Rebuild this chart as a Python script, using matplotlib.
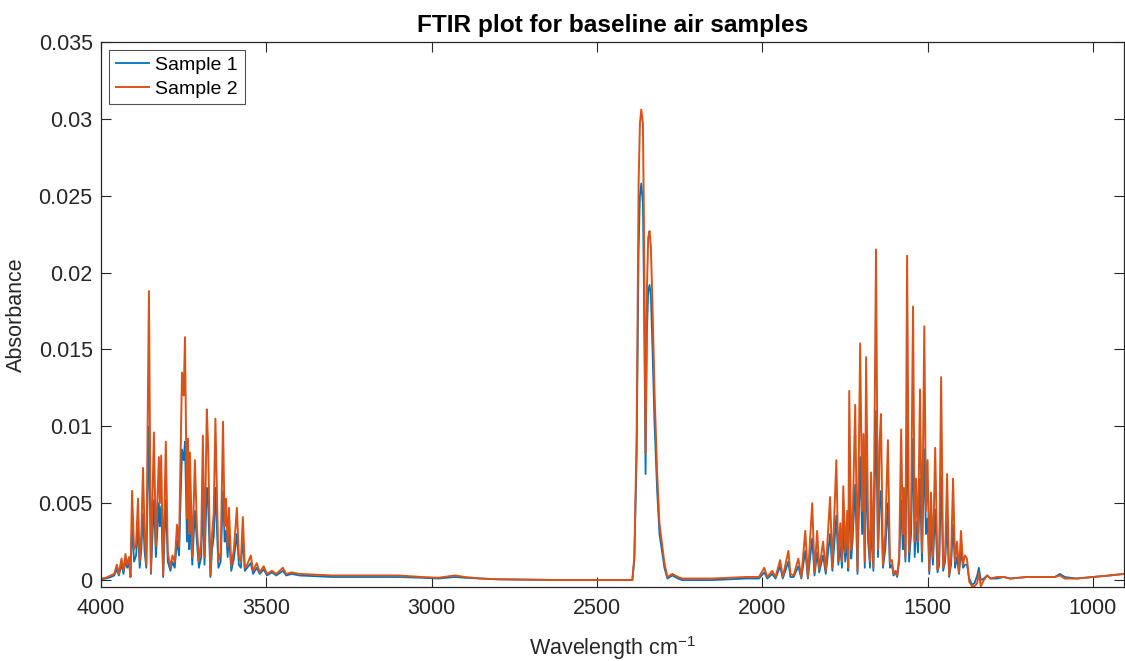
import matplotlib.pyplot as plt
import numpy as np

plt.rcParams['font.family'] = ['Liberation Sans', 'DejaVu Sans']
plt.rcParams['mathtext.fontset'] = 'custom'
plt.rcParams['mathtext.rm'] = 'Liberation Sans'

# wavenumber (cm-1), absorbance of sample 1 and sample 2
wn = [4000, 3985, 3970, 3960, 3952, 3946, 3938, 3932, 3926, 3921, 3915, 3911,
      3906, 3900, 3894, 3888, 3883, 3878, 3873, 3868, 3863, 3855, 3849, 3840,
      3834, 3825, 3822, 3818, 3812, 3804, 3798, 3790, 3784, 3777, 3770, 3764,
      3755, 3750, 3746, 3740, 3737, 3733, 3731, 3724, 3716, 3710, 3704, 3697,
      3692, 3687, 3680, 3676, 3669, 3664, 3659, 3654, 3645, 3638, 3631, 3626,
      3622, 3617, 3613, 3606, 3598, 3589, 3583, 3577, 3571, 3565, 3558, 3547,
      3540, 3529, 3520, 3508, 3498, 3483, 3470, 3450, 3440, 3423, 3400, 3300,
      3200, 3100, 3030, 2980, 2930, 2900, 2850, 2800, 2600, 2400, 2393,
      2387, 2380, 2374, 2370, 2366, 2361, 2358, 2353, 2349, 2345, 2341, 2337,
      2332, 2326, 2318, 2311, 2296, 2287, 2272, 2255, 2242, 2150, 2050, 2010,
      1994, 1985, 1970, 1960, 1946, 1938, 1921, 1915, 1905, 1891, 1882, 1870,
      1862, 1849, 1842, 1834, 1828, 1816, 1808, 1795, 1788, 1776, 1770, 1764,
      1759, 1755, 1749, 1743, 1740, 1737, 1731, 1727, 1719, 1712, 1704, 1698,
      1694, 1690, 1686, 1680, 1674, 1671, 1664, 1656, 1650, 1645, 1641, 1635,
      1628, 1620, 1614, 1608, 1603, 1597, 1592, 1586, 1580, 1575, 1572, 1567,
      1562, 1556, 1550, 1544, 1539, 1535, 1529, 1523, 1517, 1510, 1505, 1500,
      1495, 1490, 1484, 1477, 1470, 1465, 1459, 1453, 1447, 1441, 1435, 1429,
      1423, 1417, 1411, 1405, 1399, 1393, 1387, 1381, 1374, 1366, 1358, 1350,
      1345, 1339, 1330, 1320, 1310, 1290, 1270, 1250, 1200, 1150, 1115, 1100,
      1085, 1050, 1000, 950, 906]

sample1 = [0.00005, 0.0001, 0.0002, 0.0003, 0.0007, 0.0003, 0.0010, 0.0004, 0.0013, 0.0008, 0.0011, 0.0002,
           0.0036, 0.0012, 0.0016, 0.0034, 0.0008, 0.0020, 0.0043, 0.0018, 0.0008, 0.0100, 0.0004, 0.0052,
           0.0015, 0.0050, 0.0035, 0.0048, 0.0002, 0.0052, 0.0012, 0.0006, 0.0012, 0.0008, 0.0026, 0.0016,
           0.0085, 0.0078, 0.0090, 0.0025, 0.0052, 0.0020, 0.0045, 0.0010, 0.0045, 0.0025, 0.0008, 0.0015,
           0.0052, 0.0010, 0.0060, 0.0050, 0.0002, 0.0020, 0.0028, 0.0060, 0.0008, 0.0012, 0.0058, 0.0025,
           0.0032, 0.0015, 0.0030, 0.0006, 0.0014, 0.0030, 0.0010, 0.0008, 0.0028, 0.0006, 0.0008, 0.0011,
           0.0004, 0.0008, 0.0004, 0.0007, 0.0003, 0.0005, 0.0003, 0.0006, 0.0003, 0.0004, 0.0003, 0.0002,
           0.0002, 0.0002, 0.00015, 0.0001, 0.0002, 0.00015, 0.0001, 0.00005, 0.0, 0.0, 0.0,
           0.0013, 0.0080, 0.0215, 0.0250, 0.0258, 0.0245, 0.0190, 0.0069, 0.0160, 0.0188, 0.0192, 0.0185,
           0.0150, 0.0102, 0.0058, 0.0030, 0.0008, 0.0001, 0.0003, 0.0001, 0.0, 0.0, 0.0001, 0.0001,
           0.0005, 0.0001, 0.0004, 0.0001, 0.0009, 0.0001, 0.0012, 0.0002, 0.0002, 0.0009, 0.0001, 0.0019,
           0.0001, 0.0027, 0.0003, 0.0018, 0.0005, 0.0016, 0.0004, 0.0030, 0.0006, 0.0042, 0.0010, 0.0022,
           0.0008, 0.0034, 0.0012, 0.0026, 0.0006, 0.0066, 0.0014, 0.0025, 0.0062, 0.0004, 0.0080, 0.0030,
           0.0055, 0.0008, 0.0078, 0.0025, 0.0008, 0.0040, 0.0006, 0.0110, 0.0015, 0.0050, 0.0058, 0.0008,
           0.0020, 0.0050, 0.0008, 0.0010, 0.0003, 0.0005, 0.0002, 0.0012, 0.0052, 0.0020, 0.0035, 0.0012,
           0.0110, 0.0012, 0.0030, 0.0092, 0.0015, 0.0038, 0.0018, 0.0066, 0.0012, 0.0085, 0.0030, 0.0040,
           0.0004, 0.0032, 0.0010, 0.0046, 0.0005, 0.0010, 0.0068, 0.0006, 0.0012, 0.0038, 0.0002, 0.0010,
           0.0036, 0.0008, 0.0015, 0.0004, 0.0020, 0.0008, 0.0010, 0.0010, 0.0001, -0.0003, -0.0002, 0.0003,
           0.0008, 0.0000, 0.0001, 0.0003, 0.0001, 0.0001, 0.0002, 0.0001, 0.0002, 0.0002, 0.0002, 0.0004,
           0.0002, 0.0001, 0.0002, 0.0003, 0.0004]

sample2 = [0.0001, 0.00015, 0.0003, 0.0004, 0.0010, 0.0004, 0.0014, 0.0006, 0.0017, 0.0010, 0.0015, 0.0002,
           0.0058, 0.0020, 0.0023, 0.0053, 0.0012, 0.0030, 0.0073, 0.0030, 0.0010, 0.0188, 0.0005, 0.0096,
           0.0022, 0.0080, 0.0050, 0.0081, 0.0003, 0.0090, 0.0018, 0.0008, 0.0016, 0.0012, 0.0036, 0.0022,
           0.0135, 0.0120, 0.0158, 0.0040, 0.0092, 0.0030, 0.0083, 0.0015, 0.0078, 0.0035, 0.0012, 0.0025,
           0.0094, 0.0015, 0.0111, 0.0087, 0.0003, 0.0030, 0.0044, 0.0105, 0.0012, 0.0018, 0.0103, 0.0035,
           0.0053, 0.0022, 0.0047, 0.0009, 0.0020, 0.0047, 0.0015, 0.0012, 0.0041, 0.0008, 0.0010, 0.0016,
           0.0006, 0.0011, 0.0005, 0.0009, 0.0004, 0.0006, 0.0004, 0.0008, 0.0004, 0.0005, 0.0004, 0.0003,
           0.0003, 0.0003, 0.0002, 0.00015, 0.0003, 0.0002, 0.0001, 0.00005, 0.0, 0.0, 0.0,
           0.0015, 0.0094, 0.0259, 0.0297, 0.0306, 0.0297, 0.0235, 0.0082, 0.0188, 0.0223, 0.0227, 0.0217,
           0.0178, 0.0123, 0.0070, 0.0037, 0.0011, 0.0002, 0.0004, 0.0002, 0.0001, 0.0001, 0.0002, 0.0002,
           0.0008, 0.0002, 0.0006, 0.0002, 0.0013, 0.0002, 0.0019, 0.0004, 0.0003, 0.0014, 0.0002, 0.0032,
           0.0002, 0.0050, 0.0005, 0.0032, 0.0007, 0.0025, 0.0006, 0.0054, 0.0008, 0.0078, 0.0012, 0.0037,
           0.0012, 0.0061, 0.0018, 0.0045, 0.0008, 0.0123, 0.0020, 0.0035, 0.0114, 0.0006, 0.0154, 0.0045,
           0.0095, 0.0012, 0.0145, 0.0035, 0.0012, 0.0070, 0.0008, 0.0215, 0.0020, 0.0090, 0.0108, 0.0010,
           0.0030, 0.0091, 0.0012, 0.0013, 0.0004, 0.0006, 0.0003, 0.0015, 0.0098, 0.0030, 0.0060, 0.0015,
           0.0211, 0.0018, 0.0045, 0.0178, 0.0025, 0.0066, 0.0025, 0.0124, 0.0018, 0.0165, 0.0045, 0.0078,
           0.0006, 0.0057, 0.0015, 0.0086, 0.0007, 0.0015, 0.0132, 0.0008, 0.0016, 0.0069, 0.0003, 0.0015,
           0.0066, 0.0012, 0.0025, 0.0005, 0.0032, 0.0010, 0.0016, 0.0014, -0.0001, -0.0004, -0.0004, -0.0002,
           0.0005, -0.0004, 0.0000, 0.0003, 0.0001, 0.0002, 0.0002, 0.0001, 0.0002, 0.0002, 0.0002, 0.0003,
           0.0001, 0.0001, 0.0002, 0.0003, 0.0004]

yticks = [0, 0.005, 0.01, 0.015, 0.02, 0.025, 0.03, 0.035]
ytick_labels = ['0', '0.005', '0.01', '0.015', '0.02', '0.025', '0.03', '0.035']
xticks = [4000, 3500, 3000, 2500, 2000, 1500, 1000]

fig = plt.figure(figsize=(11.25, 6.61), dpi=100)
ax = fig.add_axes([101/1125, 74/661, 1023/1125, 545/661])

ax.plot(wn, sample1, color='#0072BD', lw=1.3, label='Sample 1')
ax.plot(wn, sample2, color='#D95319', lw=1.4, label='Sample 2')

ax.set_xlim(4000, 906)
ax.set_ylim(-0.00045, 0.035)
ax.set_xticks(xticks)
ax.set_yticks(yticks)
ax.set_yticklabels(ytick_labels)

ax.tick_params(direction='in', length=7, width=0.8, colors='#262626',
               labelsize=15.5, top=True, right=True, pad=6)
ax.tick_params(axis='x', pad=8)
for s in ax.spines.values():
    s.set_color('#262626')
    s.set_linewidth(0.9)

ax.set_title('FTIR plot for baseline air samples', fontsize=17.6, fontweight='bold', pad=7)
ax.set_xlabel(r'Wavelength cm$^{-1}$', fontsize=15.5, color='#262626', labelpad=11)
ax.set_ylabel('Absorbance', fontsize=15.5, color='#262626', labelpad=8)

leg = ax.legend(loc='upper left', fontsize=14, frameon=True, fancybox=False,
                handlelength=1.7, handletextpad=0.35, borderpad=0.35,
                labelspacing=0.3, borderaxespad=0.4)
leg.get_frame().set_edgecolor('#262626')
leg.get_frame().set_linewidth(0.8)

plt.savefig('out.png', dpi=100)
